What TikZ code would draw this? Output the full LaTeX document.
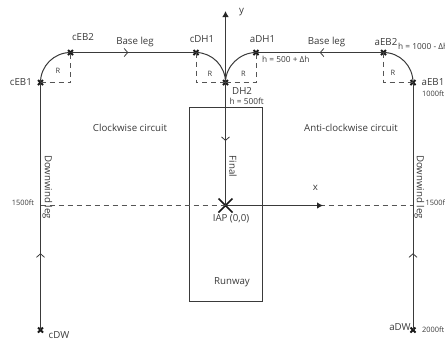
\documentclass[tikz,border=0pt]{standalone}
\usepackage{fontspec}
\setmainfont{Open Sans}
\usetikzlibrary{shapes.misc,arrows.meta,decorations.markings}
\definecolor{ink}{HTML}{3A3A3A}
\definecolor{dashink}{HTML}{555555}
\tikzset{
  wp/.style={cross out,draw=black!90,line width=1.8pt,minimum size=5pt,inner sep=0pt,outer sep=0pt},
  leg/.style={draw=ink,line width=1pt},
  guide/.style={draw=dashink,line width=0.9pt,dash pattern=on 5pt off 4pt},
  midtip/.style={postaction={decorate,decoration={markings,mark=at position #1 with {\arrow[line width=0.8pt]{Straight Barb[length=3.5pt,width=8pt]}}}}},
  lab/.style={text=ink,inner sep=0pt,font=\fontsize{9.7}{11}\selectfont},
  small/.style={text=ink,inner sep=0pt,font=\fontsize{8.3}{10}\selectfont},
  tiny/.style={text=ink,inner sep=0pt,font=\fontsize{7.4}{9}\selectfont},
  axis/.style={draw=ink,line width=1pt,-{Latex[length=6pt,width=6.5pt,black!85]}}
}
\begin{document}
\begin{tikzpicture}[x=1pt,y=-1pt]
\useasboundingbox (0,0) rectangle (445,338);
\clip (0,0) rectangle (445,338);
% way points
\node[wp] (cEB1) at (40.5,82.5) {};
\node[wp] (cEB2) at (70.5,52.5) {};
\node[wp] (cDH1) at (196,52.5) {};
\node[wp] (DH2) at (225.5,82.5) {};
\node[wp] (aDH1) at (256,52.5) {};
\node[wp] (aEB2) at (383.5,52.5) {};
\node[wp] (aEB1) at (413,82.5) {};
\node[wp] (cDW) at (40.5,330) {};
\node[wp] (aDW) at (413,330) {};
\node[cross out,draw=black!90,line width=1.6pt,minimum size=14pt,inner sep=0pt,outer sep=0pt] (IAP) at (225.5,205.5) {};
% R corners
\coordinate (cRa) at (70.5,82.5);
\coordinate (cRb) at (196,82.5);
\coordinate (aRa) at (256,82.5);
\coordinate (aRb) at (383.5,82.5);
\coordinate (top) at (225.5,11);
\coordinate (xend) at (323,205.5);
\coordinate (cW) at (40.5,205.5);
\coordinate (aW) at (413,205.5);
% runway
\node[draw=ink,line width=0.9pt,minimum width=72.5pt,minimum height=194pt,inner sep=0pt,outer sep=0pt] (rwy) at (225.75,204.5) {};
% guides
\draw[guide] (cEB1.center) -- (cRa) -- (cEB2.center);
\draw[guide] (cDH1.center) -- (cRb) -- (DH2.center);
\draw[guide] (DH2.center) -- (aRa) -- (aDH1.center);
\draw[guide] (aEB2.center) -- (aRb) -- (aEB1.center);
\draw[guide] (cW) -- (aW);
% circuit
\draw[leg,midtip=0.31] (cDW.center) -- (cEB1.center);
\draw[leg] (cEB1.center) .. controls (40.5,66) and (54,52.5) .. (cEB2.center);
\draw[leg,midtip=0.46] (cEB2.center) -- (cDH1.center);
\draw[leg] (cDH1.center) .. controls (212,52.5) and (225.5,66) .. (DH2.center);
\draw[leg] (aDH1.center) .. controls (240,52.5) and (225.5,66) .. (DH2.center);
\draw[leg,midtip=0.5] (aEB2.center) -- (aDH1.center);
\draw[leg] (aEB2.center) .. controls (400,52.5) and (413,66) .. (aEB1.center);
\draw[leg,midtip=0.31] (aDW.center) -- (aEB1.center);
% axes
\draw[axis] (IAP.center) -- (top);
\draw[axis] (IAP.center) -- (xend);
\draw[leg,midtip=0.475] (DH2.center) -- (IAP.center);
% labels
\node[lab,anchor=east] (t1) at (32,82.5) {cEB1};
\node[lab] (t2) at (83,37) {cEB2};
\node[lab] (t3) at (202,39.5) {cDH1};
\node[lab] (t4) at (135,42) {Base leg};
\node[lab] (t5) at (262.5,39.5) {aDH1};
\node[lab] (t6) at (326.5,42) {Base leg};
\node[lab] (t7) at (386,42) {aEB2};
\node[lab,anchor=west] (t8) at (421.5,82.5) {aEB1};
\node[lab] (t9) at (241.5,12.5) {y};
\node[lab,anchor=west] (t10) at (232,91) {DH2};
\node[small,anchor=west] (t11) at (229.5,101.5) {h = 500ft};
\node[small,anchor=west] (t12) at (262,59) {h = 500 + Δh};
\node[small,anchor=west] (t13) at (398,46.5) {h = 1000 - Δh};
\node[tiny,anchor=west] (t14) at (422,94) {1000ft};
\node[lab] (t15) at (130,128) {Clockwise circuit};
\node[lab] (t16) at (351,128) {Anti-clockwise circuit};
\node[lab,rotate=-90] (t17) at (47.5,187) {Downwind leg};
\node[lab,rotate=-90] (t18) at (419.5,187) {Downwind leg};
\node[lab,rotate=-90] (t19) at (233,166.5) {Final};
\node[tiny] (t20) at (23,203) {1500ft};
\node[tiny,anchor=west] (t21) at (425.5,203) {1500ft};
\node[lab] (t22) at (315.5,188) {x};
\node[lab] (t23) at (231,218.5) {IAP (0,0)};
\node[lab] (t24) at (232,282) {Runway};
\node[lab] (t25) at (59,335) {cDW};
\node[lab] (t26) at (400,327.5) {aDW};
\node[tiny,anchor=west] (t27) at (422,329.5) {2000ft};
\node[tiny] (r1) at (58,71) {R};
\node[tiny] (r2) at (210,74) {R};
\node[tiny] (r3) at (243.5,74) {R};
\node[tiny] (r4) at (393,73) {R};
\end{tikzpicture}
\end{document}
